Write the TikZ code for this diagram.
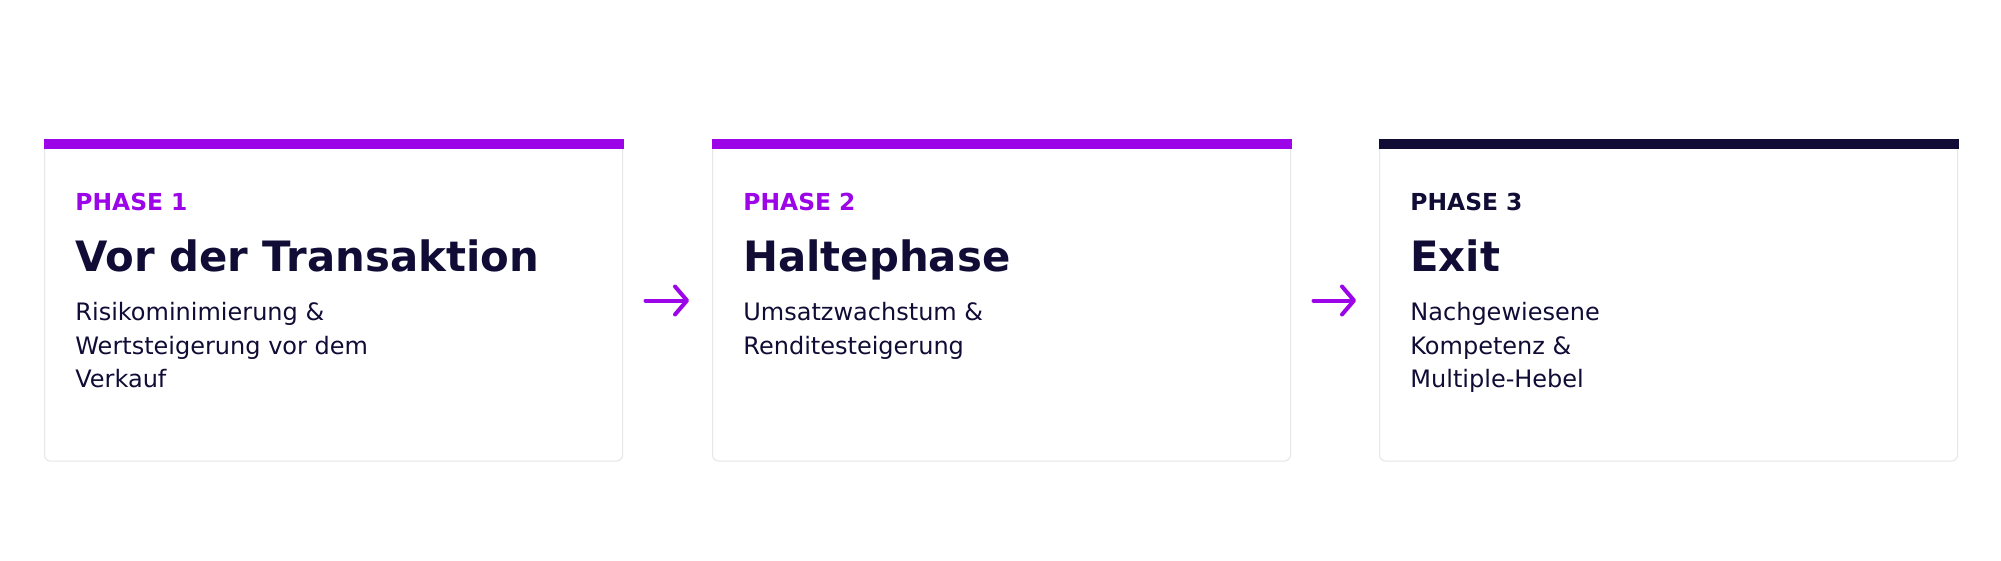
\documentclass[tikz,border=0pt]{standalone}
\usepackage{fontspec}
\setmainfont{DejaVu Sans}
\usetikzlibrary{arrows.meta}
\definecolor{brandpurple}{HTML}{9B05E8}
\definecolor{navy}{HTML}{100C35}
\definecolor{cardline}{HTML}{E6E6EB}
\tikzset{
  cardbox/.style={draw=cardline, line width=0.5pt, fill=white, rounded corners=3pt,
    minimum width=289pt, minimum height=160.5pt, inner sep=0pt},
  phaselbl/.style={anchor=base west, inner sep=0pt, font=\fontsize{11.7}{14}\selectfont\bfseries},
  titlelbl/.style={anchor=base west, inner sep=0pt, text=navy, font=\fontsize{20.9}{24}\selectfont\bfseries},
  bodylbl/.style={anchor=base west, inner sep=0pt, text=navy, font=\fontsize{12}{16.5}\selectfont},
  flow/.style={draw=brandpurple, line width=2pt, line cap=round,
    -{Straight Barb[length=6pt, width=14pt, line cap=round, line join=round]},
    shorten <=11.25pt, shorten >=11.5pt}
}
\begin{document}
\begin{tikzpicture}[x=0.5pt, y=-0.5pt]
\useasboundingbox (0,0) rectangle (2001,561);
\fill[white] (0,0) rectangle (2001,561);
% cards
\node[cardbox] (c1) at (333.5,300.5) {};
\node[cardbox] (c2) at (1001.5,300.5) {};
\node[cardbox] (c3) at (1668.5,300.5) {};
\fill[brandpurple] ([xshift=-0.25pt]c1.north west) rectangle ([xshift=0.25pt,yshift=-5pt]c1.north east);
\fill[brandpurple] ([xshift=-0.25pt]c2.north west) rectangle ([xshift=0.25pt,yshift=-5pt]c2.north east);
\fill[navy] ([xshift=-0.25pt]c3.north west) rectangle ([xshift=0.25pt,yshift=-5pt]c3.north east);
% texts card 1
\node[phaselbl, text=brandpurple] (p1) at (75,211) {PHASE 1};
\node[titlelbl] (t1) at (75,271) {Vor der Transaktion};
\node[bodylbl] (b1a) at (75,321) {Risikominimierung \&};
\node[bodylbl] (b1b) at (75,354) {Wertsteigerung vor dem};
\node[bodylbl] (b1c) at (75,387) {Verkauf};
% texts card 2
\node[phaselbl, text=brandpurple] (p2) at (743,211) {PHASE 2};
\node[titlelbl] (t2) at (743,271) {Haltephase};
\node[bodylbl] (b2a) at (743,321) {Umsatzwachstum \&};
\node[bodylbl] (b2b) at (743,354) {Renditesteigerung};
% texts card 3
\node[phaselbl, text=navy] (p3) at (1410,211) {PHASE 3};
\node[titlelbl] (t3) at (1410,271) {Exit};
\node[bodylbl] (b3a) at (1410,321) {Nachgewiesene};
\node[bodylbl] (b3b) at (1410,354) {Kompetenz \&};
\node[bodylbl] (b3c) at (1410,387) {Multiple-Hebel};
% arrows
\draw[flow] (c1.east) -- (c2.west);
\draw[flow] (c2.east) -- (c3.west);
\end{tikzpicture}
\end{document}
